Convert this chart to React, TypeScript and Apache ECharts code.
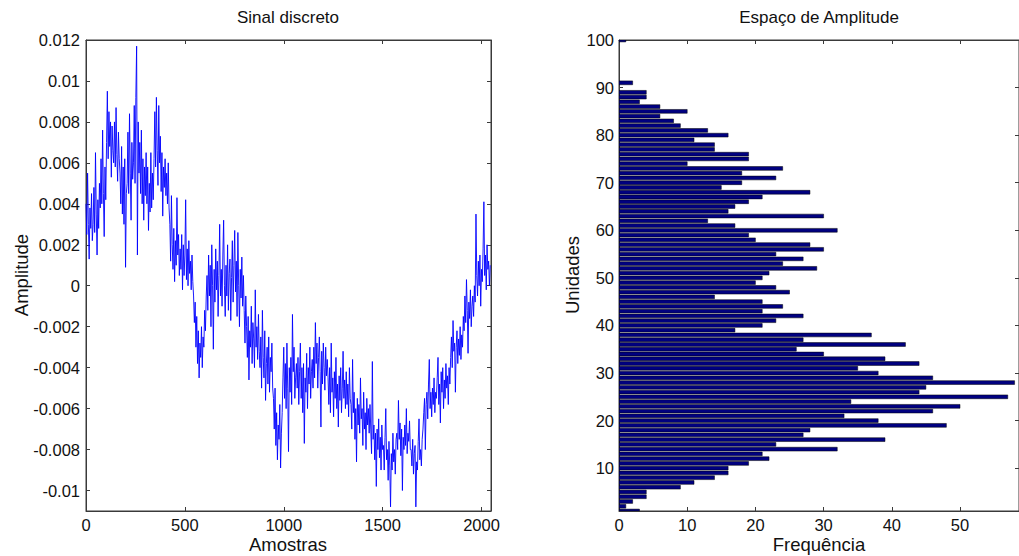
import React, { useEffect, useRef } from "react";
import * as echarts from "echarts";

// ---- Left panel: discrete signal (every 4th sample, amplitude in 1e-4 units)
const SAMPLE_STEP = 4;
const SIGNAL_E4: number[] = [
  40, 25, 55, 30, 13, 38, 28, 45, 22,
  30, 48, 26, 65, 35, 15, 42, 28, 50,
  38, 62, 40, 76, 45, 24, 58, 42,
  70, 95, 62, 85, 68, 80, 53, 78, 66,
  60, 80, 58, 87, 64, 51, 75, 62,
  55, 40, 68, 35, 58, 30, 62, 9, 45,
  50, 75, 45, 84, 55, 32, 70, 52,
  60, 88, 50, 92, 117, 15, 80, 55,
  70, 45, 76, 40, 62, 32, 58, 44, 65,
  40, 58, 27, 50, 36, 65, 38, 55, 42,
  62, 85, 58, 92, 66, 49, 88,
  60, 73, 46, 65, 34, 58, 48, 62, 44,
  55, 40, 60, 38,
  30, 12, 44, 20, 8, 28, 2, 22, 10, 43, 15, 25, 5, 18,
  8, 25, -2, 20, 5, 15, 42, 3, 18, 0, 22, 6, 12, -2, 15, 2,
  -5, -18, -8, -30, -15, -38, -22, -45, -28, -35, -20, -40, -25, -30, -12, -22, -5,
  5, -12, 15, -5, 10, -20, 20, 0, -31, 8, -8, 18, -2, 12, -15, 5, 30, -5,
  8, -10, 15, 32, 0, -15, 10, -5, 20, -12, 6, 13, -17, 4, 22, -8, 10, 27, -3, 12, -15, 26, 0, -20, 8, -6, 14, -10, 5,
  -12, -28, -5, -20, -35, -15, -46, -22, -30, -10, -38, -18, -26, -40, -2, -30, -20, -36, -14, -32,
  -40, -25, -50, -12, -35, -45, -22, -56, -38, -30, -48, -25, -52, -35, -42, -28, -50,
  -55, -70, -50, -78, -62, -85, -68, -75, -58, -89, -72, -62,
  -45, -30, -55, -38, -60, -28, -50, -81, -40, -52, -35, -58, -14, -42, -30, -55, -45, -38,
  -50, -35, -58, -42, -28, -55, -40, -62, -38, -77, -45, -52, -33, -60, -40, -48, -30, -55, -42, -36, -50,
  -30, -45, -18, -38, -28, -50, -35, -25, -42, -69, -32, -48, -28, -40, -51, -30, -44, -36,
  -45, -58, -40, -62, -28, -52, -45, -64, -42, -55, -35, -60, -48, -69, -44, -56, -40, -62, -50, -32, -55, -46, -60, -42, -58, -48, -64, -40, -55,
  -58, -70, -36, -62, -52, -75, -60, -86, -55, -68, -58, -72, -45, -65, -60, -78, -52, -70, -62, -80, -55, -68, -60, -72, -58,
  -70, -82, -37, -75, -68, -85, -72, -98, -70, -80, -65, -84, -74, -90, -68, -80,
  -78, -90, -74, -60, -85, -80, -95, -76, -88, -108, -82, -90, -72, -86, -80, -92, -75,
  -72, -80, -56, -75, -67, -83, -70, -100, -74, -80, -68, -78, -60, -82, -72, -76, -66, -80,
  -80, -88, -75, -92, -82, -78, -108, -86, -90, -76, -65, -85, -80, -88, -75,
  -70, -62, -55, -80, -58, -52, -65, -48, -36, -60, -52, -64, -50, -58, -45, -62, -52,
  -55, -45, -35, -58, -48, -67, -42, -52, -40, -60, -46, -55, -38, -50, -44, -58, -40, -48,
  -35, -25, -40, -17, -32, -28, -52, -30, -22, -38, -26, -34, -20, -36, -24, -30,
  -15, -22, -5, -18, 3, -12, -33, -8, -16, -2, -20, -10, -5, -15, 0, -8, 35,
  5, -5, 12, 0, 15, -10, 8, 2, 18, 41, 5, 15, -2, 20, 8, 12, 0, 10,
];

const X_TICKS_LEFT = [0, 500, 1000, 1500, 2000];
const Y_TICKS_LEFT = [-0.01, -0.008, -0.006, -0.004, -0.002, 0, 0.002, 0.004, 0.006, 0.008, 0.01, 0.012];

// ---- Right panel: amplitude histogram (units 1..100)
const UNITS: number[] = Array.from({ length: 100 }, (_, i) => i + 1);
const FREQ: number[] = [
  3, 1, 2, 4, 4, 9, 11, 14, 16, 16,
  19, 22, 21, 32, 23, 39, 27, 28, 48, 38,
  33, 46, 50, 34, 57, 44, 45, 58, 46, 38,
  35, 44, 39, 30, 26, 42, 27, 37, 17, 21,
  23, 27, 21, 24, 21, 14, 25, 23, 20, 21,
  22, 29, 24, 27, 23, 30, 28, 20, 19, 32,
  17, 13, 30, 16, 17, 19, 21, 28, 15, 18,
  23, 18, 24, 10, 19, 19, 14, 14, 11, 16,
  13, 9, 8, 6, 10, 6, 3, 4, 4, 0,
  2, 0, 0, 0, 0, 0, 0, 0, 0, 1,
];
const X_TICKS_RIGHT = [0, 10, 20, 30, 40, 50];
const Y_TICKS_RIGHT = [10, 20, 30, 40, 50, 60, 70, 80, 90, 100];

const AXIS_COLOR = "#3a3a3a";
const TEXT_COLOR = "#111";
const FONT = "'Liberation Sans', Arial, sans-serif";
const TICK_FS = 16.5;
const LABEL_FS = 18.5;

function fmtLeft(v: number) {
  return String(parseFloat(v.toFixed(3)));
}
function fmtPlain(v: number) {
  return String(Math.round(v));
}

function axisBase(extra: any) {
  return {
    type: "value",
    axisLine: { show: true, onZero: false, lineStyle: { color: AXIS_COLOR, width: 1 } },
    splitLine: { show: false },
    ...extra,
  };
}

export default function App() {
  const ref = useRef<HTMLDivElement>(null);

  useEffect(() => {
    if (!ref.current) return;
    const chart = echarts.init(ref.current, undefined, { renderer: "svg" });

    const lineData = SIGNAL_E4.map((v, i) => [i * SAMPLE_STEP, v / 10000]);
    const barData = UNITS.map((u, i) => [FREQ[i], u]);

    const tickOpts = (vals: number[]) => ({
      show: true,
      inside: true,
      length: 4,
      customValues: vals,
      lineStyle: { color: AXIS_COLOR, width: 1 },
    });
    const labelOpts = (vals: number[], margin: number, formatter: (v: number) => string) => ({
      customValues: vals,
      margin,
      fontSize: TICK_FS,
      color: TEXT_COLOR,
      fontFamily: FONT,
      formatter,
    });

    const option: any = {
      animation: false,
      backgroundColor: "#ffffff",
      grid: [
        { left: 86, top: 40, width: 405, height: 471, show: true, borderColor: AXIS_COLOR, borderWidth: 1, backgroundColor: "transparent" },
        { left: 619, top: 40, width: 400, height: 471, show: true, borderColor: AXIS_COLOR, borderWidth: 1, backgroundColor: "transparent" },
      ],
      xAxis: [
        axisBase({
          gridIndex: 0, position: "bottom", min: 0, max: 2048,
          axisTick: tickOpts(X_TICKS_LEFT),
          axisLabel: labelOpts(X_TICKS_LEFT, 5, fmtPlain),
        }),
        axisBase({
          gridIndex: 0, position: "top", min: 0, max: 2048,
          axisTick: tickOpts(X_TICKS_LEFT),
          axisLabel: { show: false },
        }),
        axisBase({
          gridIndex: 1, position: "bottom", min: 0, max: 58.65,
          axisTick: tickOpts(X_TICKS_RIGHT),
          axisLabel: labelOpts(X_TICKS_RIGHT, 5, fmtPlain),
        }),
        axisBase({
          gridIndex: 1, position: "top", min: 0, max: 58.65,
          axisTick: tickOpts(X_TICKS_RIGHT),
          axisLabel: { show: false },
        }),
      ],
      yAxis: [
        axisBase({
          gridIndex: 0, position: "left", min: -0.011, max: 0.012,
          axisTick: tickOpts(Y_TICKS_LEFT),
          axisLabel: labelOpts(Y_TICKS_LEFT, 6, fmtLeft),
        }),
        axisBase({
          gridIndex: 0, position: "right", min: -0.011, max: 0.012,
          axisTick: tickOpts(Y_TICKS_LEFT),
          axisLabel: { show: false },
        }),
        axisBase({
          gridIndex: 1, position: "left", min: 1, max: 100,
          axisTick: tickOpts(Y_TICKS_RIGHT),
          axisLabel: labelOpts(Y_TICKS_RIGHT, 5, fmtPlain),
        }),
        axisBase({
          gridIndex: 1, position: "right", min: 1, max: 100,
          axisTick: tickOpts(Y_TICKS_RIGHT),
          axisLabel: { show: false },
        }),
      ],
      series: [
        {
          type: "line",
          xAxisIndex: 0,
          yAxisIndex: 0,
          data: lineData,
          showSymbol: false,
          symbol: "none",
          lineStyle: { color: "#0000ff", width: 0.9 },
          clip: true,
        },
        {
          type: "custom",
          xAxisIndex: 2,
          yAxisIndex: 2,
          data: barData,
          clip: true,
          renderItem: (params: any, api: any) => {
            const f = api.value(0);
            const u = api.value(1);
            if (!f) return null;
            const p0 = api.coord([0, u + 0.4]);
            const p1 = api.coord([f, u - 0.4]);
            const cs = params.coordSys;
            const rect = echarts.graphic.clipRectByRect(
              { x: p0[0], y: p0[1], width: p1[0] - p0[0], height: p1[1] - p0[1] },
              { x: cs.x, y: cs.y, width: cs.width, height: cs.height }
            );
            if (!rect) return null;
            return {
              type: "rect",
              shape: rect,
              style: { fill: "#000080", stroke: "#000000", lineWidth: 0.5 },
            };
          },
        },
      ],
      graphic: [
        { type: "text", x: 288, y: 17, style: { text: "Sinal discreto", fontSize: 17, fontFamily: FONT, fill: TEXT_COLOR, align: "center", verticalAlign: "middle" } },
        { type: "text", x: 819, y: 17, style: { text: "Espaço de Amplitude", fontSize: 17, fontFamily: FONT, fill: TEXT_COLOR, align: "center", verticalAlign: "middle" } },
        { type: "text", x: 288, y: 544, style: { text: "Amostras", fontSize: LABEL_FS, fontFamily: FONT, fill: TEXT_COLOR, align: "center", verticalAlign: "middle" } },
        { type: "text", x: 819, y: 544, style: { text: "Frequência", fontSize: LABEL_FS, fontFamily: FONT, fill: TEXT_COLOR, align: "center", verticalAlign: "middle" } },
        { type: "text", x: 21, y: 275, rotation: Math.PI / 2, style: { text: "Amplitude", fontSize: LABEL_FS, fontFamily: FONT, fill: TEXT_COLOR, align: "center", verticalAlign: "middle" } },
        { type: "text", x: 572, y: 275, rotation: Math.PI / 2, style: { text: "Unidades", fontSize: LABEL_FS, fontFamily: FONT, fill: TEXT_COLOR, align: "center", verticalAlign: "middle" } },
      ],
    };

    chart.setOption(option);
    return () => chart.dispose();
  }, []);

  return (
    <div
      ref={ref}
      style={{ position: "fixed", left: 0, top: 0, width: 1019, height: 556, background: "#fff" }}
    />
  );
}
